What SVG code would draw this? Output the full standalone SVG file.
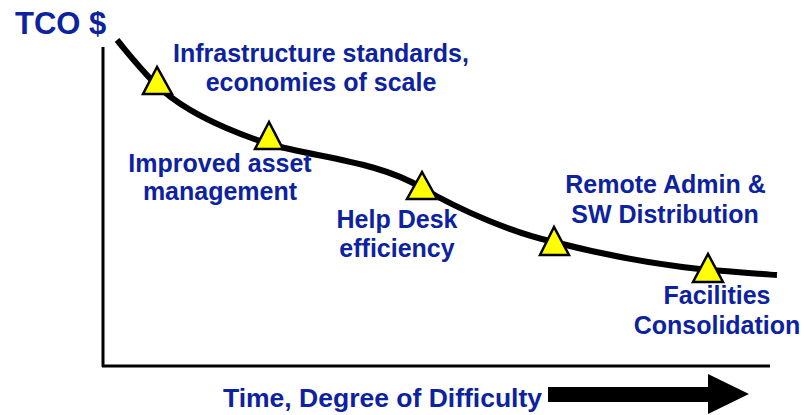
<svg xmlns="http://www.w3.org/2000/svg" width="804" height="415" viewBox="0 0 804 415">
<style>
.lbl{font-family:"Liberation Sans",Arial,sans-serif;font-weight:bold;font-size:25px;fill:#0C22A0;text-anchor:middle}
.tri{fill:#FFFF00;stroke:#000;stroke-width:2.5;stroke-linejoin:miter}
</style>
<rect width="804" height="415" fill="#fff"/>
<g id="axes">
<line x1="103" y1="47" x2="103" y2="367" stroke="#000" stroke-width="3"/>
<line x1="102" y1="366" x2="770" y2="366" stroke="#000" stroke-width="3"/>
<text x="15" y="34" style="font-family:'Liberation Sans',Arial,sans-serif;font-weight:bold;font-size:31px;fill:#0C22A0">TCO $</text>
</g>
<g id="connectors">
<path d="M117,40 C132,58 146,76 162,90 C185,110 220,128 269,144 C320,158 380,162 422,188 C460,210 510,232 554,242 C600,254 650,264 708,270 C740,272 760,274 777,275" fill="none" stroke="#000" stroke-width="6"/>
</g>
<g id="n1">
<polygon class="tri" points="157,67 143,94 172,94"/>
<text class="lbl" x="321" y="62">Infrastructure standards,</text>
<text class="lbl" x="321" y="91">economies of scale</text>
</g>
<g id="n2">
<polygon class="tri" points="269,122 255,149 283,149"/>
<text class="lbl" x="220" y="172">Improved asset</text>
<text class="lbl" x="220" y="200">management</text>
</g>
<g id="n3">
<polygon class="tri" points="422,172 407,199 437,199"/>
<text class="lbl" x="397" y="228">Help Desk</text>
<text class="lbl" x="397" y="257">efficiency</text>
</g>
<g id="n4">
<polygon class="tri" points="554,227 540,255 569,255"/>
<text class="lbl" x="665.5" y="193">Remote Admin &amp;</text>
<text class="lbl" x="665" y="223">SW Distribution</text>
</g>
<g id="n5">
<polygon class="tri" points="708,254 693,282 723,282"/>
<text class="lbl" x="717" y="304">Facilities</text>
<text class="lbl" x="717" y="334">Consolidation</text>
</g>
<g id="xlabel">
<text class="lbl" x="382.5" y="407" style="font-size:26.5px">Time, Degree of Difficulty</text>
<polygon points="548,387 708,387 708,374 749,394 708,414 708,402 548,402" fill="#000"/>
</g>
</svg>
